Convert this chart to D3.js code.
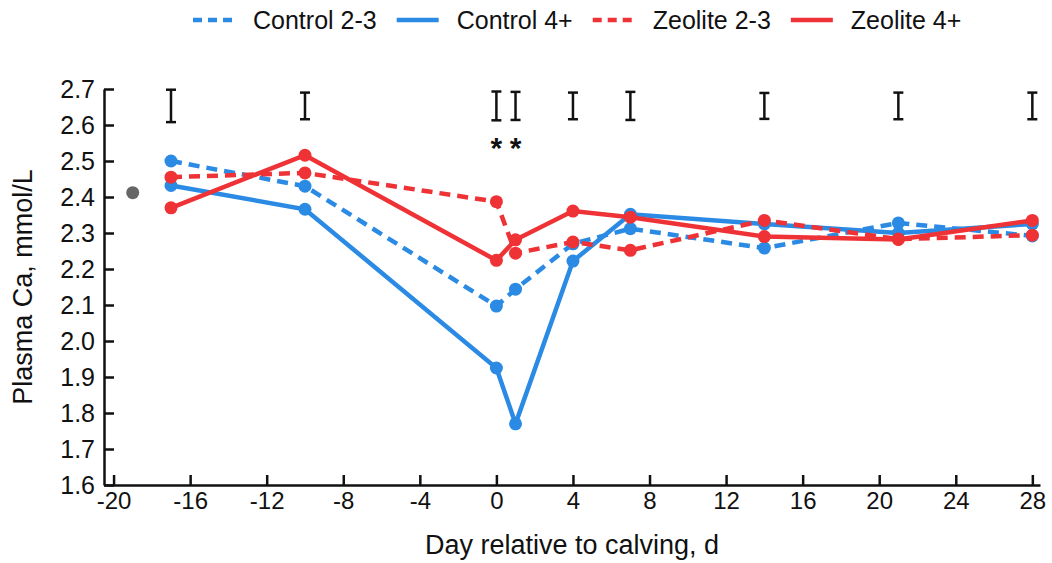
<!DOCTYPE html>
<html>
<head>
<meta charset="utf-8">
<script src="https://cdn.jsdelivr.net/npm/d3@7"></script>
<style>
  body { margin: 0; background: #fff; }
  text { font-family: "Liberation Sans", Arial, sans-serif; fill: #111; }
</style>
</head>
<body>
<script>
// plasma Ca by parity group, around calving

var days = [-17, -10, 0, 1, 4, 7, 14, 21, 28];
var control23 = [2.50, 2.43, 2.097, 2.144, 2.27, 2.312, 2.258, 2.328, 2.292];
var control4 = [2.432, 2.366, 1.925, 1.77, 2.222, 2.352, 2.325, 2.30, 2.325];
var zeolite23 = [2.455, 2.467, 2.387, 2.244, 2.275, 2.252, 2.335, 2.283, 2.294];
var zeolite4 = [2.37, 2.516, 2.224, 2.281, 2.361, 2.344, 2.29, 2.282, 2.335];
var semHalf = [0.045, 0.037, 0.04, 0.039, 0.037, 0.039, 0.036, 0.037, 0.037];
var semCenter = 2.653;
var baseDay = -19, baseValue = 2.412;
var sigDays = [0, 1];
var xTicks = d3.range(-20, 29, 4);
var yTicks = d3.range(16, 28).map(function(d) { return d / 10; });

var blue = "#2a8ae4", red = "#ee3236";
var series = [
  {name: "Control 2-3", values: control23, color: blue, dash: "11,7"},
  {name: "Control 4+", values: control4, color: blue, dash: null},
  {name: "Zeolite 2-3", values: zeolite23, color: red, dash: "11,7"},
  {name: "Zeolite 4+", values: zeolite4, color: red, dash: null}
];

var width = 1052, height = 563;
var svg = d3.select("body").append("svg")
    .attr("width", width)
    .attr("height", height);

var x = d3.scaleLinear().domain([-20.5, 28.4]).range([104, 1040]);
var y = d3.scaleLinear().domain([1.6, 2.7]).range([485, 89]);

// axes
var xAxis = svg.append("g")
    .attr("transform", "translate(0," + y(1.6) + ")")
    .call(d3.axisBottom(x).tickValues(xTicks).tickFormat(function(d) { return String(d); })
      .tickSizeInner(-10).tickSizeOuter(0).tickPadding(7));
xAxis.selectAll("text").style("font-size", "24px");

var yAxis = svg.append("g")
    .attr("transform", "translate(" + x(-20.5) + ",0)")
    .call(d3.axisLeft(y).tickValues(yTicks).tickFormat(d3.format(".1f"))
      .tickSizeInner(-10).tickSizeOuter(0).tickPadding(9));
yAxis.selectAll("text").style("font-size", "25px");

svg.selectAll(".domain, .tick line")
    .attr("stroke", "#111")
    .attr("stroke-width", 2.5);

svg.append("text")
    .attr("x", (x(-20.5) + x(28.4)) / 2)
    .attr("y", 554)
    .attr("text-anchor", "middle")
    .style("font-size", "27px")
    .text("Day relative to calving, d");

svg.append("text")
    .attr("transform", "translate(32," + ((y(1.6) + y(2.7)) / 2) + ") rotate(-90)")
    .attr("text-anchor", "middle")
    .style("font-size", "27px")
    .text("Plasma Ca, mmol/L");

// SEM bars
var sem = svg.append("g").attr("stroke", "#111").attr("stroke-width", 2.5);
days.forEach(function(d, i) {
  var top = y(semCenter + semHalf[i]), bot = y(semCenter - semHalf[i]);
  sem.append("line").attr("x1", x(d)).attr("x2", x(d)).attr("y1", top).attr("y2", bot);
  sem.append("line").attr("x1", x(d) - 5).attr("x2", x(d) + 5).attr("y1", top).attr("y2", top);
  sem.append("line").attr("x1", x(d) - 5).attr("x2", x(d) + 5).attr("y1", bot).attr("y2", bot);
});

svg.selectAll(".sig")
  .data(sigDays)
  .enter().append("text")
    .attr("class", "sig")
    .attr("x", function(d) { return x(d); })
    .attr("y", 158)
    .attr("text-anchor", "middle")
    .style("font-size", "30px")
    .style("font-weight", "bold")
    .text("*");

// lines + points
var line = d3.line()
    .x(function(d, i) { return x(days[i]); })
    .y(function(d) { return y(d); });

series.forEach(function(s) {
  var g = svg.append("g");
  g.append("path")
    .attr("d", line(s.values))
    .attr("fill", "none")
    .attr("stroke", s.color)
    .attr("stroke-width", 4.5)
    .attr("stroke-dasharray", s.dash);
  g.selectAll("circle")
    .data(s.values)
    .enter().append("circle")
    .attr("cx", function(d, i) { return x(days[i]); })
    .attr("cy", function(d) { return y(d); })
    .attr("r", 6.5)
    .attr("fill", s.color);
});

svg.append("circle")
    .attr("cx", x(baseDay))
    .attr("cy", y(baseValue))
    .attr("r", 6.5)
    .attr("fill", "#666");

// legend
var legend = svg.append("g").attr("transform", "translate(193,20)");
var lx = 0;
series.forEach(function(s) {
  legend.append("line")
    .attr("x1", lx).attr("x2", lx + 42)
    .attr("y1", 0).attr("y2", 0)
    .attr("stroke", s.color)
    .attr("stroke-width", 4.5)
    .attr("stroke-dasharray", s.dash ? "9,6" : null);
  var t = legend.append("text")
    .attr("x", lx + 60)
    .attr("y", 9)
    .style("font-size", "25px")
    .text(s.name);
  lx += 60 + t.node().getComputedTextLength() + 20;
});
</script>
</body>
</html>
